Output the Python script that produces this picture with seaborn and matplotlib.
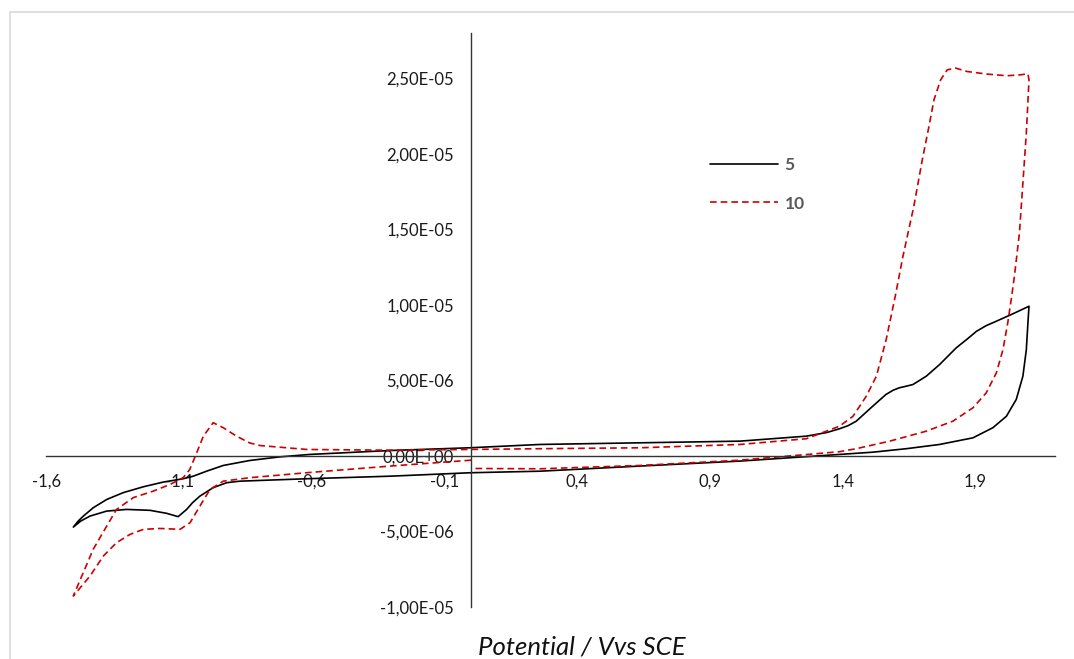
import numpy as np
import pandas as pd
import matplotlib
matplotlib.use("Agg")
import matplotlib.pyplot as plt
from matplotlib.ticker import FuncFormatter, FixedLocator
from matplotlib.patches import Rectangle
import seaborn as sns

# ---- data (potential in V vs SCE, current in microampere) ----
scan_labels = ["5", "10"]

e5_v = [0.000, -0.305, -0.620, -0.871, -0.921, -0.972, -1.022, -1.050, -1.072, -1.104, -1.147, -1.210, -1.298, -1.373, -1.436, -1.470, -1.499,
        -1.480, -1.461, -1.424, -1.373, -1.311, -1.235, -1.160, -1.085, -1.047, -0.997, -0.934, -0.834, -0.720, -0.608, -0.305, -0.006, 0.259,
        0.636, 1.013, 1.263, 1.340, 1.388, 1.420, 1.451, 1.513, 1.563, 1.590, 1.613, 1.640, 1.665, 1.715, 1.765, 1.828, 1.870, 1.904, 1.940, 1.979, 2.040, 2.102,
        2.098, 2.092, 2.079, 2.054, 2.017, 1.966, 1.891, 1.765, 1.640, 1.514, 1.388, 1.013, 0.636, 0.259, 0.000]
i5_ua = [-1.11, -1.34, -1.51, -1.67, -1.77, -2.10, -2.66, -3.10, -3.54, -4.02, -3.80, -3.60, -3.54, -3.65, -3.98, -4.30, -4.71,
         -4.30, -3.98, -3.43, -2.88, -2.43, -2.04, -1.73, -1.51, -1.34, -1.01, -0.63, -0.30, -0.06, 0.10, 0.36, 0.54, 0.76,
         0.87, 0.98, 1.31, 1.55, 1.80, 2.00, 2.30, 3.29, 4.07, 4.35, 4.51, 4.62, 4.73, 5.28, 6.05, 7.16, 7.75, 8.25, 8.62, 8.92, 9.40, 9.91,
         8.81, 7.04, 5.28, 3.74, 2.63, 1.87, 1.20, 0.76, 0.48, 0.25, 0.10, -0.34, -0.67, -1.01, -1.11]

e10_v = [0.000, -0.305, -0.620, -0.834, -0.934, -0.984, -1.022, -1.059, -1.097, -1.172, -1.235, -1.285, -1.336, -1.386, -1.436, -1.499,
         -1.467, -1.424, -1.373, -1.336, -1.273, -1.198, -1.135, -1.085, -1.060, -1.034, -1.009, -0.972, -0.934, -0.884,
         -0.834, -0.796, -0.620, -0.305, -0.005, 0.259, 0.636, 1.013, 1.263, 1.388, 1.439, 1.489, 1.527, 1.564, 1.598,
         1.627, 1.668, 1.700, 1.725, 1.744, 1.769, 1.794, 1.825, 1.869, 1.944, 2.019, 2.069, 2.098,
         2.102, 2.092, 2.079, 2.066, 2.047, 2.035, 2.022, 2.004, 1.979, 1.941, 1.891, 1.815, 1.715, 1.577, 1.451,
         1.388, 1.013, 0.636, 0.259, 0.008]
i10_ua = [-0.28, -0.67, -1.11, -1.44, -1.67, -2.22, -3.32, -4.42, -4.86, -4.80, -4.86, -5.19, -5.74, -6.63, -7.95, -9.27,
          -7.95, -6.18, -4.64, -3.54, -2.76, -2.33, -1.89, -1.44, -0.89, 0.21, 1.31, 2.20, 1.87, 1.31,
          0.86, 0.69, 0.43, 0.38, 0.43, 0.48, 0.54, 0.76, 1.14, 1.97, 2.63, 3.96, 5.28, 7.71, 10.57,
          13.21, 16.52, 19.61, 21.81, 23.58, 24.90, 25.56, 25.68, 25.45, 25.28, 25.17, 25.23, 25.30,
          24.90, 21.38, 18.07, 14.76, 11.89, 10.35, 8.81, 7.04, 5.50, 4.18, 3.19, 2.30, 1.64, 0.98, 0.48,
          0.28, -0.28, -0.63, -0.85, -0.83]

x_ticks = [-1.6, -1.1, -0.6, -0.1, 0.4, 0.9, 1.4, 1.9]
y_ticks = [-1.0e-5, -5.0e-6, 0.0, 5.0e-6, 1.0e-5, 1.5e-5, 2.0e-5, 2.5e-5]
x_label = "Potential / Vvs SCE"

df = pd.concat([
    pd.DataFrame({"E": e5_v, "I": np.array(i5_ua) * 1e-6, "scan": scan_labels[0]}),
    pd.DataFrame({"E": e10_v, "I": np.array(i10_ua) * 1e-6, "scan": scan_labels[1]}),
], ignore_index=True)

# ---- figure ----
sns.set_style("white")
plt.rcParams["font.family"] = ["Lato", "DejaVu Sans"]

W, H = 1074, 659
fig = plt.figure(figsize=(W / 100, H / 100), dpi=100)
ax = fig.add_axes([46.5 / W, 52 / H, (1055 - 46.5) / W, (607 - 33) / H])

red = "#CC0000"
sns.lineplot(data=df, x="E", y="I", hue="scan", style="scan", sort=False, estimator=None,
             palette={"5": "black", "10": red},
             dashes={"5": "", "10": (4, 2.4)},
             linewidth=1.2, ax=ax, legend=True)
for ln in ax.lines:
    ln.set_solid_joinstyle("round")
    ln.set_dash_joinstyle("round")

ax.set_xlim(-1.6, 2.2)
ax.set_ylim(-1.0e-5, 2.8e-5)
ax.xaxis.set_major_locator(FixedLocator(x_ticks))
ax.yaxis.set_major_locator(FixedLocator(y_ticks))
ax.xaxis.set_major_formatter(FuncFormatter(lambda v, p: f"{v:.1f}".replace(".", ",")))
ax.yaxis.set_major_formatter(FuncFormatter(lambda v, p: f"{v:.2E}".replace(".", ",")))

for s in ["top", "right"]:
    ax.spines[s].set_visible(False)
ax.spines["left"].set_position(("data", 0))
ax.spines["bottom"].set_position(("data", 0))
for s in ["left", "bottom"]:
    ax.spines[s].set_color("#333333")
    ax.spines[s].set_linewidth(1.0)

ax.tick_params(axis="both", which="major", direction="inout", length=9, width=1.0,
               color="#333333", labelsize=12, labelcolor="#1a1a1a")
ax.tick_params(axis="y", pad=8)
ax.tick_params(axis="x", pad=8)
ax.set_xlabel("")
ax.set_ylabel("")

# legend
handles, labels = ax.get_legend_handles_labels()
pairs = [(h, l) for h, l in zip(handles, labels) if l in scan_labels]
leg = ax.legend([p[0] for p in pairs], [p[1] for p in pairs],
                loc="upper left", bbox_to_anchor=(710 / W, 1 - 157 / H),
                bbox_transform=fig.transFigure, frameon=False, borderpad=0,
                borderaxespad=0, handlelength=3.9, handletextpad=0.4,
                labelspacing=1.3, prop={"weight": "bold", "size": 12.5})
for t in leg.get_texts():
    t.set_color("#595959")

fig.text(582 / W, 5 / H, x_label, ha="center", va="baseline",
         fontsize=18.5, style="italic", color="#111111")

# chart-area border
fig.patches.append(Rectangle((9.5 / W, -0.1), 1.2, 1.1 - 11.5 / H, transform=fig.transFigure,
                             fill=False, edgecolor="#D9D9D9", linewidth=1.2, zorder=0))

fig.savefig("out.png", dpi=100, facecolor="white")
